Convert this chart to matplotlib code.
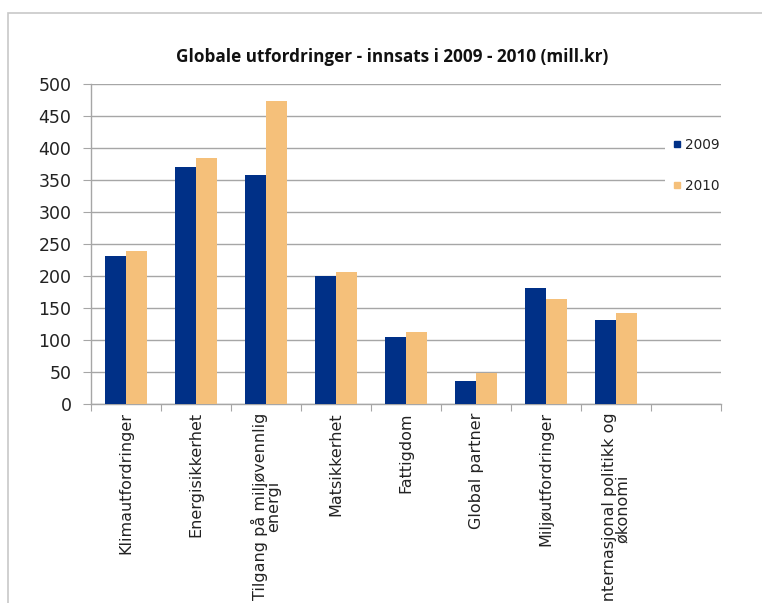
import matplotlib
matplotlib.use("Agg")
import matplotlib.pyplot as plt
import numpy as np
from matplotlib.patches import Rectangle
from matplotlib.lines import Line2D

plt.rcParams["font.family"] = ["DejaVu Sans"]

title = "Globale utfordringer - innsats i 2009 - 2010 (mill.kr)"
categories = ["Klimautfordringer", "Energisikkerhet", "Tilgang på miljøvennlig\nenergi",
              "Matsikkerhet", "Fattigdom", "Global partner", "Miljøutfordringer",
              "Internasjonal politikk og\nøkonomi", ""]
series_names = ["2009", "2010"]
values_2009 = [231, 370, 358, 200, 104, 36, 182, 132, None]
values_2010 = [239, 385, 473, 206, 113, 48, 164, 142, None]
yticks = [0, 50, 100, 150, 200, 250, 300, 350, 400, 450, 500]

c09 = "#003087"
c10 = "#F5C07A"
grid_c = "#a6a6a6"

fig = plt.figure(figsize=(7.62, 6.03), dpi=100)
fig.patch.set_facecolor("white")
# outer chart frame
fig.add_artist(Rectangle((8/762, -0.1), 1.2, 1 - 13/603 + 0.1, transform=fig.transFigure,
                         fill=False, edgecolor="#c8c8c8", linewidth=1.2))

ax = fig.add_axes([91/762, 1 - 404/603, (721 - 91)/762, (404 - 84)/603])
n = len(categories)
x = np.arange(n)
w = 0.305
v09 = [v if v is not None else 0 for v in values_2009]
v10 = [v if v is not None else 0 for v in values_2010]
ax.bar(x - w/2, v09, width=w, color=c09, zorder=3, label=series_names[0])
ax.bar(x + w/2, v10, width=w, color=c10, zorder=3, label=series_names[1])

ax.set_xlim(-0.5, n - 0.5)
ax.set_ylim(0, 500)
ax.set_yticks(yticks)
ax.set_yticklabels([str(t) for t in yticks], fontsize=12.5, color="#222222")
ax.yaxis.grid(True, color=grid_c, linewidth=1.0, zorder=0)
ax.set_axisbelow(True)

ax.set_xticks(np.arange(n + 1) - 0.5)
ax.set_xticklabels([])
ax.set_xticks(x, minor=True)
ax.set_xticklabels(categories, minor=True, rotation=90, fontsize=11.5, color="#222222",
                   va="top", ha="center", multialignment="center", linespacing=0.9)
ax.tick_params(axis="x", which="minor", length=0, pad=6)
ax.tick_params(axis="x", which="major", length=5, color=grid_c, direction="out")
ax.tick_params(axis="y", length=6, color=grid_c, direction="out", pad=8)

for s in ["top", "right"]:
    ax.spines[s].set_visible(False)
for s in ["left", "bottom"]:
    ax.spines[s].set_color(grid_c)
    ax.spines[s].set_linewidth(1.0)

fig.text(392/762, 1 - 57/603, title, fontsize=12.3, fontweight="bold", family="Open Sans",
         color="#111111", ha="center", va="center")

handles = [Line2D([], [], marker="s", linestyle="none", markersize=5, color=c09),
           Line2D([], [], marker="s", linestyle="none", markersize=5, color=c10)]
leg = ax.legend(handles, series_names, loc="center left", bbox_to_anchor=(0.9, 0.745),
                frameon=True, fontsize=9.8, handlelength=0.6, handletextpad=0.3,
                labelspacing=2.0, borderpad=0.6, fancybox=False)
leg.get_frame().set_facecolor("white")
leg.get_frame().set_edgecolor("none")
leg.get_frame().set_alpha(1)
for t in leg.get_texts():
    t.set_color("#222222")

fig.savefig("out.png", dpi=100, facecolor="white")
